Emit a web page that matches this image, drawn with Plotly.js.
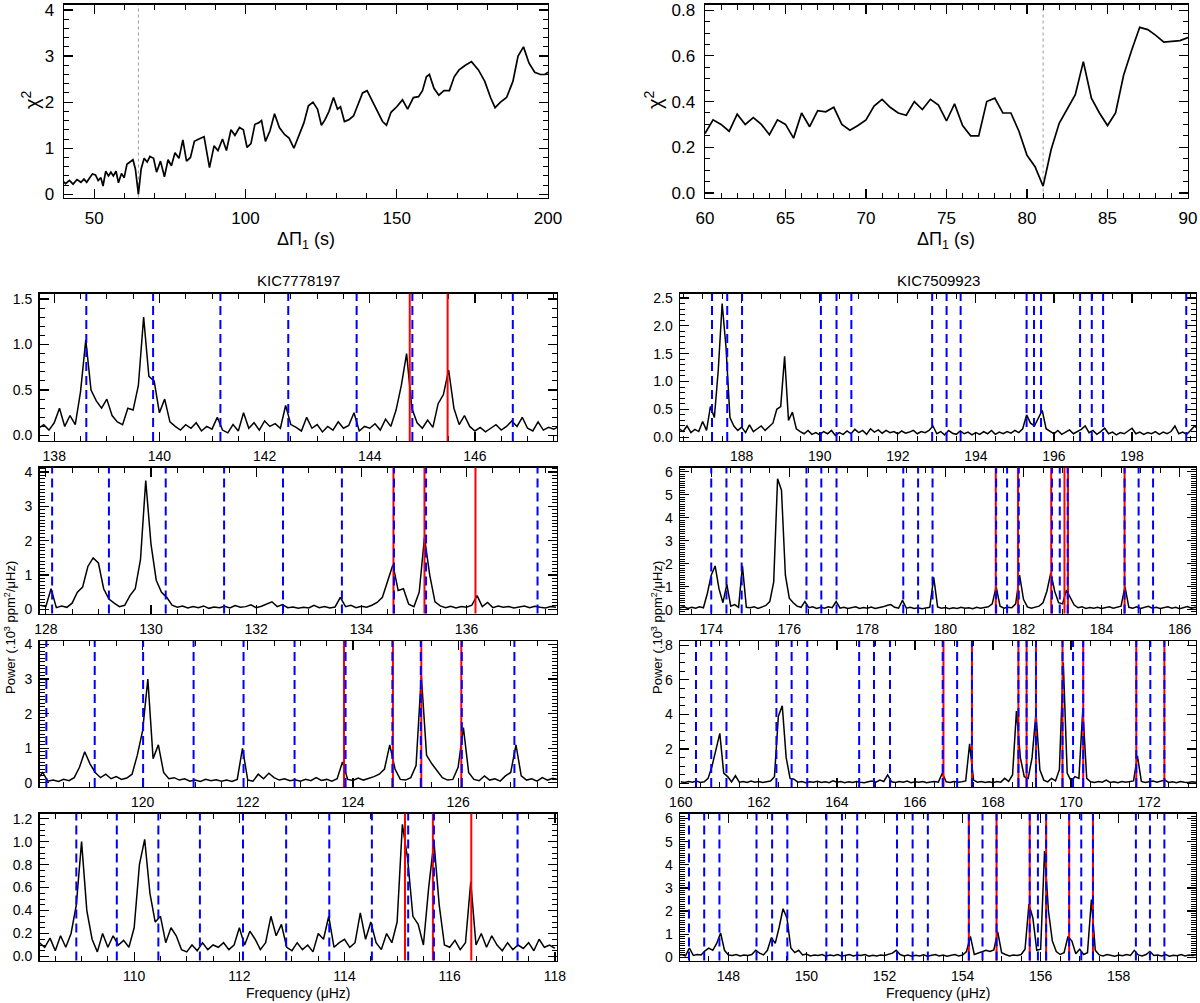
<!DOCTYPE html>
<html>
<head>
<meta charset="utf-8">
<script src="https://cdn.plot.ly/plotly-3.0.1.min.js"></script>
<style>
  html, body { margin: 0; padding: 0; background: #fff; }
  #fig { width: 1200px; height: 1003px; }
</style>
</head>
<body>
<div id="fig"></div>
<script>
// ---- chi^2 curves (period-spacing scans) ----
const chiLeftX = [40, 40.5, 41.8, 43.0, 44.3, 45.6, 46.6, 47.5, 48.5, 49.4, 50.4, 51.3, 52.2, 52.9, 53.8, 54.7, 55.5, 56.3, 57.2, 58.0,
  59.0, 59.9, 60.8, 61.8, 62.8, 63.6, 64.6, 65.5, 66.5, 67.5, 68.4, 69.6, 70.6, 71.9, 73.2, 74.4, 75.5, 76.7, 78.0, 79.3,
  80.5, 81.8, 83.1, 84.6, 86.3, 88.1, 89.6, 90.9, 92.4, 93.7, 95.2, 96.5, 98.0, 99.3, 100.5, 101.8, 103.1, 104.3, 105.3, 106.6,
  108.1, 109.6, 111.2, 112.9, 114.4, 116.0, 117.7, 119.3, 120.8, 122.3, 123.8, 125.1, 126.3, 127.6, 129.1, 130.4, 131.4, 132.7, 134.2, 135.7,
  137.2, 138.7, 140.2, 141.8, 143.7, 145.3, 146.6, 148.1, 150.0, 151.9, 153.6, 155.5, 157.2, 158.5, 159.8, 160.8, 162.3, 163.9, 165.6, 167.4,
  169.0, 170.6, 172.7, 174.7, 177.0, 179.1, 181.0, 182.5, 184.3, 186.3, 188.4, 190.1, 191.9, 193.7, 195.6, 197.5, 199.0, 200];
const chiLeftY = [0.27, 0.23, 0.30, 0.22, 0.32, 0.26, 0.33, 0.26, 0.36, 0.44, 0.42, 0.30, 0.36, 0.18, 0.50, 0.40, 0.48, 0.40, 0.50, 0.25,
  0.45, 0.36, 0.65, 0.70, 0.75, 0.55, 0.0, 0.55, 0.78, 0.70, 0.82, 0.78, 0.48, 0.72, 0.38, 0.75, 0.62, 0.90, 0.78, 1.18,
  0.72, 0.80, 1.15, 1.20, 1.25, 0.58, 1.05, 0.95, 1.20, 0.95, 1.40, 1.28, 1.45, 1.40, 1.02, 1.10, 1.52, 1.55, 1.60, 1.15,
  1.38, 1.75, 1.45, 1.30, 1.22, 1.00, 1.30, 1.55, 1.92, 2.00, 1.85, 1.50, 1.62, 1.80, 2.10, 1.85, 1.90, 1.58, 1.62, 1.70,
  1.95, 2.20, 2.25, 2.05, 1.80, 1.58, 1.50, 1.78, 1.90, 2.05, 1.85, 2.10, 2.12, 2.25, 2.55, 2.60, 2.30, 2.15, 2.25, 2.25,
  2.55, 2.70, 2.80, 2.88, 2.70, 2.45, 2.10, 1.88, 2.00, 2.10, 2.45, 3.00, 3.20, 2.85, 2.65, 2.60, 2.60, 2.65];
const chiLeftBest = 64.6;

const chiRightX0 = 60, chiRightStep = 0.5;
const chiRightY = [0.26, 0.32, 0.30, 0.27, 0.345, 0.30, 0.33, 0.30, 0.255, 0.32, 0.30, 0.24, 0.35, 0.29, 0.36, 0.355, 0.375, 0.30, 0.275, 0.295,
  0.32, 0.38, 0.41, 0.375, 0.35, 0.34, 0.40, 0.365, 0.41, 0.385, 0.315, 0.39, 0.295, 0.25, 0.25, 0.40, 0.415, 0.35, 0.35, 0.27,
  0.165, 0.115, 0.03, 0.19, 0.305, 0.365, 0.43, 0.575, 0.415, 0.35, 0.295, 0.35, 0.515, 0.625, 0.725, 0.715, 0.69, 0.66, 0.665, 0.667, 0.68];
const chiRightBest = 81.0;

// ---- power spectra, 0.1 muHz grid, power in 10^3 ppm^2/muHz ----
const STEP = 0.1;
// KIC7778197
const L1_F0 = 137.7;
const L1 = [0.08, 0.12, 0.06, 0.14, 0.30, 0.10, 0.22, 0.12, 0.48, 1.05,
  0.50, 0.38, 0.30, 0.40, 0.22, 0.15, 0.12, 0.30, 0.28, 0.55,
  1.30, 0.65, 0.60, 0.25, 0.40, 0.15, 0.10, 0.06, 0.12, 0.08,
  0.14, 0.05, 0.10, 0.07, 0.20, 0.06, 0.03, 0.12, 0.05, 0.25,
  0.08, 0.14, 0.06, 0.16, 0.10, 0.13, 0.08, 0.33, 0.12, 0.09,
  0.05, 0.20, 0.08, 0.12, 0.04, 0.10, 0.06, 0.15, 0.08, 0.11,
  0.25, 0.05, 0.10, 0.08, 0.13, 0.06, 0.18, 0.10, 0.28, 0.55,
  0.90, 0.30, 0.14, 0.08, 0.17, 0.09, 0.35, 0.45, 0.72, 0.30,
  0.12, 0.22, 0.10, 0.05, 0.09, 0.04, 0.08, 0.12, 0.06, 0.10,
  0.16, 0.10, 0.20, 0.08, 0.05, 0.15, 0.06, 0.09, 0.07, 0.10];
const L2_F0 = 127.9;
const L2 = [0.12, 0.08, 0.60, 0.05, 0.10, 0.06, 0.18, 0.50, 0.65, 1.25,
  1.50, 1.35, 0.60, 0.30, 0.18, 0.08, 0.12, 0.40, 0.60, 1.45,
  3.75, 1.90, 0.85, 0.50, 0.35, 0.12, 0.06, 0.10, 0.04, 0.08,
  0.05, 0.10, 0.03, 0.07, 0.05, 0.09, 0.04, 0.11, 0.06, 0.08,
  0.13, 0.05, 0.09, 0.16, 0.22, 0.08, 0.14, 0.05, 0.07, 0.03,
  0.06, 0.04, 0.12, 0.05, 0.08, 0.04, 0.07, 0.35, 0.08, 0.12,
  0.05, 0.09, 0.06, 0.12, 0.20, 0.35, 0.80, 1.30, 0.55, 0.60,
  0.15, 0.08, 0.50, 2.10, 1.00, 0.22, 0.10, 0.05, 0.09, 0.04,
  0.08, 0.06, 0.12, 0.40, 0.08, 0.20, 0.05, 0.10, 0.06, 0.08,
  0.04, 0.07, 0.10, 0.05, 0.09, 0.06, 0.04, 0.08, 0.06];
const L3_F0 = 118.0;
const L3 = [0.10, 0.30, 0.05, 0.08, 0.04, 0.10, 0.06, 0.15, 0.45, 0.90,
  0.55, 0.30, 0.15, 0.25, 0.12, 0.18, 0.10, 0.14, 0.25, 0.80,
  1.50, 3.00, 0.70, 1.10, 0.30, 0.12, 0.15, 0.08, 0.12, 0.05,
  0.08, 0.04, 0.10, 0.06, 0.09, 0.05, 0.08, 0.04, 0.10, 1.00,
  0.08, 0.05, 0.25, 0.12, 0.28, 0.15, 0.08, 0.12, 0.06, 0.09,
  0.05, 0.10, 0.06, 0.15, 0.07, 0.10, 0.05, 0.12, 0.60, 0.10,
  0.07, 0.14, 0.08, 0.12, 0.18, 0.25, 0.40, 1.10, 0.40, 0.10,
  0.08, 0.15, 0.50, 3.10, 0.80, 0.55, 0.35, 0.15, 0.08, 0.10,
  0.45, 1.60, 0.30, 0.10, 0.06, 0.20, 0.08, 0.12, 0.05, 0.20,
  0.30, 1.10, 0.20, 0.08, 0.12, 0.05, 0.15, 0.08, 0.13, 0.10];
const L4_F0 = 108.2;
const L4 = [0.12, 0.08, 0.16, 0.05, 0.18, 0.08, 0.20, 0.45, 1.00, 0.40,
  0.15, 0.04, 0.20, 0.08, 0.18, 0.10, 0.14, 0.08, 0.25, 0.80,
  1.02, 0.55, 0.30, 0.35, 0.12, 0.25, 0.18, 0.06, 0.04, 0.10,
  0.05, 0.12, 0.06, 0.10, 0.08, 0.12, 0.06, 0.10, 0.25, 0.10,
  0.22, 0.15, 0.06, 0.12, 0.35, 0.18, 0.28, 0.08, 0.05, 0.12,
  0.06, 0.10, 0.04, 0.20, 0.15, 0.35, 0.08, 0.12, 0.15, 0.08,
  0.12, 0.38, 0.15, 0.30, 0.12, 0.06, 0.20, 0.12, 0.30, 1.15,
  0.85, 0.35, 0.28, 0.10, 0.60, 1.00, 0.45, 0.10, 0.08, 0.14,
  0.06, 0.12, 0.65, 0.10, 0.20, 0.08, 0.18, 0.10, 0.05, 0.12,
  0.06, 0.10, 0.07, 0.12, 0.05, 0.15, 0.08, 0.10, 0.07];
// KIC7509923
const R1_F0 = 186.4;
const R1 = [0.15, 0.10, 0.20, 0.08, 0.14, 0.10, 0.28, 0.12, 0.55, 0.35,
  1.20, 2.40, 1.60, 0.35, 0.20, 0.12, 0.18, 0.08, 0.22, 0.10,
  0.15, 0.20, 0.12, 0.18, 0.25, 0.50, 0.55, 1.45, 0.30, 0.45,
  0.15, 0.10, 0.06, 0.12, 0.05, 0.08, 0.04, 0.10, 0.06, 0.12,
  0.03, 0.08, 0.05, 0.11, 0.06, 0.14, 0.08, 0.12, 0.05, 0.15,
  0.09, 0.13, 0.07, 0.12, 0.08, 0.10, 0.06, 0.11, 0.07, 0.09,
  0.12, 0.06, 0.10, 0.08, 0.12, 0.20, 0.06, 0.10, 0.04, 0.12,
  0.07, 0.05, 0.11, 0.06, 0.09, 0.04, 0.08, 0.05, 0.10, 0.06,
  0.12, 0.05, 0.09, 0.06, 0.10, 0.07, 0.12, 0.08, 0.15, 0.40,
  0.25, 0.20, 0.35, 0.48, 0.15, 0.10, 0.06, 0.12, 0.05, 0.09,
  0.13, 0.06, 0.10, 0.14, 0.20, 0.08, 0.12, 0.05, 0.10, 0.16,
  0.06, 0.09, 0.04, 0.08, 0.06, 0.11, 0.16, 0.06, 0.09, 0.05,
  0.08, 0.06, 0.10, 0.05, 0.09, 0.06, 0.10, 0.20, 0.06, 0.09,
  0.05, 0.12, 0.20, 0.14];
const R2_F0 = 173.2;
const R2 = [0.08, 0.12, 0.05, 0.10, 0.06, 0.12, 0.08, 0.70, 1.50, 1.90,
  0.90, 0.30, 1.10, 0.15, 0.22, 0.10, 1.90, 0.10, 0.08, 0.12,
  0.05, 0.10, 0.18, 0.35, 1.20, 5.70, 5.20, 1.50, 0.50, 0.30,
  0.15, 0.10, 0.35, 0.08, 0.12, 0.05, 0.10, 0.06, 0.12, 0.08,
  0.35, 0.06, 0.10, 0.05, 0.08, 0.12, 0.05, 0.09, 0.06, 0.11,
  0.05, 0.08, 0.12, 0.18, 0.22, 0.10, 0.06, 0.40, 0.06, 0.10,
  0.05, 0.08, 0.04, 0.07, 0.10, 1.40, 0.12, 0.06, 0.09, 0.04,
  0.08, 0.05, 0.10, 0.06, 0.08, 0.04, 0.10, 0.06, 0.09, 0.12,
  0.25, 1.00, 0.15, 0.06, 0.10, 0.08, 0.25, 1.50, 0.45, 0.12,
  0.06, 0.10, 0.15, 0.30, 0.80, 1.60, 0.80, 0.30, 0.25, 0.85,
  0.50, 0.20, 0.08, 0.12, 0.05, 0.09, 0.06, 0.10, 0.05, 0.08,
  0.12, 0.06, 0.09, 0.15, 1.00, 0.10, 0.06, 0.12, 0.05, 0.09,
  0.14, 0.06, 0.10, 0.05, 0.08, 0.12, 0.06, 0.10, 0.04, 0.09,
  0.13, 0.06, 0.10, 0.07];
const R3_F0 = 160.0;
const R3 = [0.10, 0.06, 0.12, 0.08, 0.14, 0.06, 0.10, 0.30, 1.00, 2.00,
  2.90, 0.60, 0.40, 0.10, 0.45, 0.08, 0.12, 0.06, 0.14, 0.08,
  0.12, 0.06, 0.10, 0.15, 0.40, 3.90, 4.50, 1.50, 0.30, 0.25,
  0.08, 0.12, 0.05, 0.10, 0.07, 0.13, 0.06, 0.10, 0.05, 0.16,
  0.08, 0.12, 0.05, 0.10, 0.06, 0.12, 0.08, 0.05, 0.10, 0.14,
  0.08, 0.20, 0.12, 0.50, 0.10, 0.06, 0.12, 0.08, 0.14, 0.05,
  0.10, 0.07, 0.12, 0.05, 0.09, 0.12, 0.08, 0.60, 0.10, 0.06,
  0.12, 0.08, 0.10, 0.15, 2.30, 0.20, 0.08, 0.12, 0.06, 0.10,
  0.05, 0.12, 0.08, 0.30, 0.12, 0.50, 4.20, 1.50, 0.40, 0.30,
  1.50, 4.10, 0.80, 0.20, 0.10, 0.30, 0.15, 0.80, 7.00, 0.60,
  0.15, 0.40, 0.30, 4.30, 0.30, 0.10, 0.06, 0.12, 0.08, 0.20,
  0.06, 0.10, 0.05, 0.12, 0.08, 0.10, 0.15, 1.60, 0.12, 0.06,
  0.10, 0.15, 0.08, 0.12, 0.20, 0.06, 0.10, 0.05, 0.12, 0.08,
  0.06, 0.10, 0.08];
const R4_F0 = 146.7;
const R4 = [0.08, 0.12, 0.06, 0.40, 0.08, 0.12, 0.10, 0.28, 0.40, 0.30,
  0.60, 1.05, 0.30, 0.10, 0.08, 0.12, 0.06, 0.10, 0.08, 0.12,
  0.30, 0.18, 0.10, 0.30, 0.85, 0.60, 1.30, 2.10, 1.70, 0.40,
  0.20, 0.30, 0.10, 0.14, 0.06, 0.10, 0.08, 0.12, 0.05, 0.10,
  0.07, 0.12, 0.05, 0.09, 0.12, 0.06, 0.10, 0.08, 0.12, 0.05,
  0.09, 0.06, 0.10, 0.08, 0.12, 0.18, 0.30, 0.12, 0.06, 0.10,
  0.05, 0.09, 0.06, 0.11, 0.05, 0.08, 0.12, 0.06, 0.10, 0.05,
  0.08, 0.12, 0.06, 0.10, 0.25, 0.90, 0.12, 0.18, 0.22, 0.30,
  0.25, 0.32, 1.10, 0.20, 0.12, 0.06, 0.10, 0.08, 0.12, 0.35,
  2.30, 1.70, 0.30, 0.35, 4.60, 2.00, 0.70, 0.25, 0.12, 0.20,
  0.90, 0.70, 0.15, 0.35, 0.12, 0.20, 2.50, 0.30, 0.10, 0.06,
  0.12, 0.08, 0.05, 0.10, 0.07, 0.12, 0.08, 0.30, 0.10, 0.06,
  0.12, 0.25, 0.08, 0.10, 0.06, 0.12, 0.05, 0.09, 0.07, 0.12,
  0.06, 0.10, 0.08, 0.12];

// ---- expected mixed-mode frequencies (blue dashed) and fitted modes (red) ----
const blueL1 = [138.61, 139.88, 141.16, 142.45, 143.75, 144.81, 146.72];
const redL1 = [144.76, 145.48];
const blueL2 = [128.12, 129.20, 130.28, 131.39, 132.51, 133.63, 134.62, 135.23, 137.35];
const redL2 = [134.61, 135.20, 136.17];
const blueL3 = [118.17, 119.09, 120.01, 120.97, 121.92, 122.89, 123.86, 124.75, 125.29, 126.07, 127.07];
const redL3 = [123.83, 124.76, 125.30, 126.06];
const blueL4 = [108.90, 109.67, 110.46, 111.25, 112.07, 112.89, 113.71, 114.52, 115.21, 115.70, 117.29];
const redL4 = [115.15, 115.68, 116.41];
const blueR1 = [187.24, 187.63, 188.01, 190.03, 190.43, 190.81, 192.88, 193.25, 193.61, 195.30, 195.49, 195.67, 196.67, 196.97, 197.26, 199.39];
const redR1 = [];
const blueR2 = [174.00, 174.39, 174.78, 176.44, 176.82, 177.21, 178.92, 179.30, 179.67, 181.30, 181.58, 181.88, 182.73, 182.93, 183.13, 184.59, 184.95, 185.32];
const redR2 = [181.29, 181.86, 182.71, 183.05, 183.14, 184.59];
const blueR3 = [160.39, 160.78, 161.17, 162.45, 162.84, 163.24, 164.57, 164.95, 165.36, 166.71, 167.08, 167.46, 168.65, 168.86, 169.10, 169.78, 170.05, 170.31, 171.67, 172.03, 172.39];
const redR3 = [166.73, 167.46, 168.65, 168.86, 169.10, 169.78, 170.31, 171.67, 172.39];
const blueR4 = [146.99, 147.38, 147.77, 148.72, 149.12, 149.51, 150.51, 150.91, 151.30, 152.32, 152.72, 153.11, 154.16, 154.51, 154.87, 155.72, 155.93, 156.14, 156.73, 157.04, 157.34, 158.44, 158.80, 159.17];
const redR4 = [154.16, 154.87, 155.72, 156.14, 156.73, 157.34];

// ---- layout (pixel boxes on a 1200x1003 page) ----
const W = 1200, H = 1003;
const FONT = 'Liberation Sans, Arial, sans-serif';
const xdom = (a, b) => [a / W, b / W];
const ydom = (top, bot) => [1 - bot / H, 1 - top / H];

function axis(dom, range, dtick, minor, size, anchor, fmt, standoff) {
  return {
    domain: dom, range, dtick, tick0: 0, anchor,
    showline: true, mirror: 'ticks', linecolor: '#000', linewidth: 1.4,
    ticks: 'inside', ticklen: 9, tickwidth: 1.2, tickcolor: '#000',
    minor: { dtick: minor, tick0: 0, ticks: 'inside', ticklen: 5, tickwidth: 1, tickcolor: '#000' },
    showgrid: false, zeroline: false, fixedrange: true,
    tickformat: fmt || '', ticklabelstandoff: standoff || 2,
    ticklabeloverflow: 'allow',
    tickfont: { family: FONT, size, color: '#000' }
  };
}

const LX = xdom(39.5, 557), RX = xdom(680, 1196);
const rows = [ydom(293.5, 441), ydom(467.5, 613.5), ydom(641, 787), ydom(813.5, 960.5)];

const spectra = [
  { id: 3, f0: L1_F0, p: L1, blue: blueL1, red: redL1, xd: LX, yd: rows[0], xr: [137.72, 147.56], yr: [-0.06, 1.56], ydt: 0.5, ymn: 0.1, fmt: '.1f' },
  { id: 4, f0: L2_F0, p: L2, blue: blueL2, red: redL2, xd: LX, yd: rows[1], xr: [127.88, 137.72], yr: [-0.12, 4.13], ydt: 1, ymn: 0.1, fmt: 'd' },
  { id: 5, f0: L3_F0, p: L3, blue: blueL3, red: redL3, xd: LX, yd: rows[2], xr: [118.04, 127.88], yr: [-0.12, 4.1], ydt: 1, ymn: 0.1, fmt: 'd' },
  { id: 6, f0: L4_F0, p: L4, blue: blueL4, red: redL4, xd: LX, yd: rows[3], xr: [108.2, 118.04], yr: [-0.035, 1.245], ydt: 0.2, ymn: 0.05, fmt: '.1f' },
  { id: 7, f0: R1_F0, p: R1, blue: blueR1, red: redR1, xd: RX, yd: rows[0], xr: [186.42, 199.64], yr: [-0.07, 2.58], ydt: 0.5, ymn: 0.1, fmt: '.1f' },
  { id: 8, f0: R2_F0, p: R2, blue: blueR2, red: redR2, xd: RX, yd: rows[1], xr: [173.2, 186.42], yr: [-0.17, 6.19], ydt: 1, ymn: 0.1, fmt: 'd' },
  { id: 9, f0: R3_F0, p: R3, blue: blueR3, red: redR3, xd: RX, yd: rows[2], xr: [159.98, 173.2], yr: [-0.2, 8.25], ydt: 2, ymn: 0.5, fmt: 'd' },
  { id: 10, f0: R4_F0, p: R4, blue: blueR4, red: redR4, xd: RX, yd: rows[3], xr: [146.76, 159.98], yr: [-0.14, 6.22], ydt: 1, ymn: 0.1, fmt: 'd' }
];

const traces = [];
const shapes = [];
const layout = {
  width: W, height: H, autosize: false,
  margin: { l: 0, r: 0, t: 0, b: 0 },
  paper_bgcolor: '#fff', plot_bgcolor: '#fff',
  showlegend: false,
  font: { family: FONT, color: '#000' }
};

// chi^2 panels
const chiTopDom = ydom(4.5, 197.5);
layout.xaxis = axis(xdom(64, 548), [40, 200], 50, 10, 17, 'y', 'd', 5);
layout.yaxis = axis(chiTopDom, [-0.07, 4.12], 1, 0.2, 17, 'x', 'd', 5);
layout.xaxis2 = axis(xdom(705, 1188), [60, 90], 5, 1, 17, 'y2', 'd', 5);
layout.yaxis2 = axis(chiTopDom, [-0.02, 0.825], 0.2, 0.05, 17, 'x2', '.1f', 5);

traces.push({ type: 'scatter', mode: 'lines', x: chiLeftX, y: chiLeftY, xaxis: 'x', yaxis: 'y',
  line: { color: '#000', width: 1.7 }, hoverinfo: 'skip' });
traces.push({ type: 'scatter', mode: 'lines', x: chiRightY.map((_, i) => chiRightX0 + i * chiRightStep), y: chiRightY,
  xaxis: 'x2', yaxis: 'y2', line: { color: '#000', width: 1.7 }, hoverinfo: 'skip' });
shapes.push({ type: 'line', xref: 'x', yref: 'y domain', x0: chiLeftBest, x1: chiLeftBest, y0: 0, y1: 1,
  line: { color: '#999', width: 1, dash: 'dot' }, layer: 'below' });
shapes.push({ type: 'line', xref: 'x2', yref: 'y2 domain', x0: chiRightBest, x1: chiRightBest, y0: 0, y1: 1,
  line: { color: '#999', width: 1, dash: 'dot' }, layer: 'below' });

// spectra panels
spectra.forEach(s => {
  const xa = 'x' + s.id, ya = 'y' + s.id;
  layout['xaxis' + s.id] = axis(s.xd, s.xr, 2, 0.5, 14, ya, 'd', 2);
  layout['yaxis' + s.id] = axis(s.yd, s.yr, s.ydt, s.ymn, 14, xa, s.fmt, 3);
  traces.push({ type: 'scatter', mode: 'lines', x: s.p.map((_, i) => s.f0 + i * STEP), y: s.p,
    xaxis: xa, yaxis: ya, line: { color: '#000', width: 1.5 }, hoverinfo: 'skip' });
  s.red.forEach(f => shapes.push({ type: 'line', xref: xa, yref: ya + ' domain', x0: f, x1: f, y0: 0, y1: 1,
    line: { color: '#ff0000', width: 2 } }));
  s.blue.forEach(f => shapes.push({ type: 'line', xref: xa, yref: ya + ' domain', x0: f, x1: f, y0: 0, y1: 1,
    line: { color: '#0000ff', width: 2, dash: '9px,5px' } }));
});
layout.shapes = shapes;

function note(text, x, y, size, angle) {
  return { text, x: x / W, y: 1 - y / H, xref: 'paper', yref: 'paper', showarrow: false,
    xanchor: 'center', yanchor: 'middle', textangle: angle || 0,
    font: { family: FONT, size, color: '#000' } };
}
layout.annotations = [
  note('χ<sup>2</sup>', 31, 100, 20, -90),
  note('χ<sup>2</sup>', 654, 100, 20, -90),
  note('ΔΠ<sub>1</sub> (s)', 306, 240, 18),
  note('ΔΠ<sub>1</sub> (s)', 946, 240, 18),
  note('KIC7778197', 298, 280, 15),
  note('KIC7509923', 938, 280, 15),
  note('Power (.10<sup>3</sup> ppm<sup>2</sup>/μHz)', 10, 628, 13, -90),
  note('Power (.10<sup>3</sup> ppm<sup>2</sup>/μHz)', 657, 628, 13, -90),
  note('Frequency (μHz)', 298, 993, 14),
  note('Frequency (μHz)', 938, 993, 14)
];

Plotly.newPlot('fig', traces, layout, { staticPlot: true, displayModeBar: false });
</script>
</body>
</html>
